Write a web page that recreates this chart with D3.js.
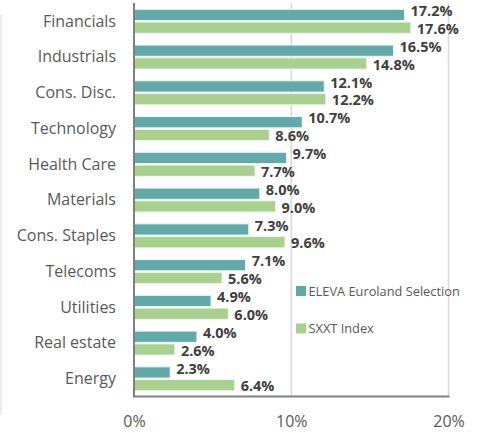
<!DOCTYPE html>
<html>
<head>
<meta charset="utf-8">
<script src="https://cdn.jsdelivr.net/npm/d3@7"></script>
<style>
  body { margin: 0; background: #fff; }
  svg { display: block; font-family: "Open Sans", sans-serif; }
</style>
</head>
<body>
<div id="chart"></div>
<script>
// data
var sectors = ['Financials', 'Industrials', 'Cons. Disc.', 'Technology', 'Health Care', 'Materials',
  'Cons. Staples', 'Telecoms', 'Utilities', 'Real estate', 'Energy'];
var seriesNames = ['ELEVA Euroland Selection', 'SXXT Index'];
var eleva = [17.2, 16.5, 12.1, 10.7, 9.7, 8.0, 7.3, 7.1, 4.9, 4.0, 2.3];
var sxxt = [17.6, 14.8, 12.2, 8.6, 7.7, 9.0, 9.6, 5.6, 6.0, 2.6, 6.4];
var xTicks = [0, 10, 20];

var colors = ['#62a9a9', '#a9d18e'];
var W = 479, H = 433;

var svg = d3.select('#chart').append('svg').attr('width', W).attr('height', H);

var x = d3.scaleLinear().domain([0, 20]).range([134, 448.5]);
var y = d3.scaleBand().domain(sectors).range([3.3, 396.6]).padding(0);
var y1 = d3.scaleBand().domain(seriesNames).range([6, 30]).paddingInner(0.12);

// faint left border line
svg.append('line').attr('x1', 1).attr('x2', 1).attr('y1', 15).attr('y2', 414)
  .attr('stroke', '#d9d9d9').attr('stroke-width', 1);

// gridlines
svg.append('g').selectAll('line').data(xTicks.slice(1)).join('line')
  .attr('x1', d => x(d)).attr('x2', d => x(d))
  .attr('y1', 3).attr('y2', 396)
  .attr('stroke', '#d9d9d9').attr('stroke-width', 1.5);

// bars
var rows = sectors.map(function (s, i) { return { sector: s, vals: [eleva[i], sxxt[i]] }; });

var grp = svg.append('g').selectAll('g').data(rows).join('g')
  .attr('transform', d => 'translate(0,' + y(d.sector) + ')');

grp.selectAll('rect').data(d => d.vals.map((v, k) => ({ v: v, k: k }))).join('rect')
  .attr('x', x(0))
  .attr('y', d => y1(seriesNames[d.k]))
  .attr('width', d => x(d.v) - x(0))
  .attr('height', y1.bandwidth())
  .attr('fill', d => colors[d.k])
  .attr('stroke', '#eef5f2').attr('stroke-width', 1);

// data labels
grp.selectAll('text').data(d => d.vals.map((v, k) => ({ v: v, k: k }))).join('text')
  .attr('x', d => x(d.v) + 6)
  .attr('y', d => d.k === 0 ? y1(seriesNames[0]) + y1.bandwidth() - 4.5 : y1(seriesNames[1]) + y1.bandwidth() + 0.5)
  .attr('font-size', 14.5).attr('font-weight', 'bold').attr('fill', '#404040')
  .text(d => d.v.toFixed(1) + '%');

// axes lines
svg.append('line').attr('x1', x(0)).attr('x2', x(0)).attr('y1', 3).attr('y2', 397.5)
  .attr('stroke', '#808080').attr('stroke-width', 2);
svg.append('line').attr('x1', x(0)).attr('x2', x(20) + 1).attr('y1', 396.5).attr('y2', 396.5)
  .attr('stroke', '#808080').attr('stroke-width', 2);

// category axis
var yAxis = svg.append('g').attr('transform', 'translate(116,0)')
  .call(d3.axisLeft(y).tickSize(0).tickPadding(0));
yAxis.select('.domain').remove();
yAxis.selectAll('text').attr('font-family', '"Open Sans", sans-serif').attr('font-size', 16)
  .attr('fill', '#595959').attr('dy', '0.34em');

// value axis
var xAxis = svg.append('g').attr('transform', 'translate(0,427)')
  .call(d3.axisBottom(x).tickValues(xTicks).tickFormat(d => d + '%').tickSize(0).tickPadding(0));
xAxis.select('.domain').remove();
xAxis.selectAll('text').attr('font-family', '"Open Sans", sans-serif').attr('font-size', 16)
  .attr('fill', '#595959').attr('dy', 0);

// legend
var leg = svg.append('g').selectAll('g').data(seriesNames).join('g')
  .attr('transform', (d, i) => 'translate(296,' + (286 + i * 37.5) + ')');
leg.append('rect').attr('width', 10).attr('height', 10).attr('fill', (d, i) => colors[i]);
leg.append('text').attr('x', 12.5).attr('y', 9.5)
  .attr('font-size', 12.8).attr('fill', '#595959').text(d => d);
</script>
</body>
</html>
